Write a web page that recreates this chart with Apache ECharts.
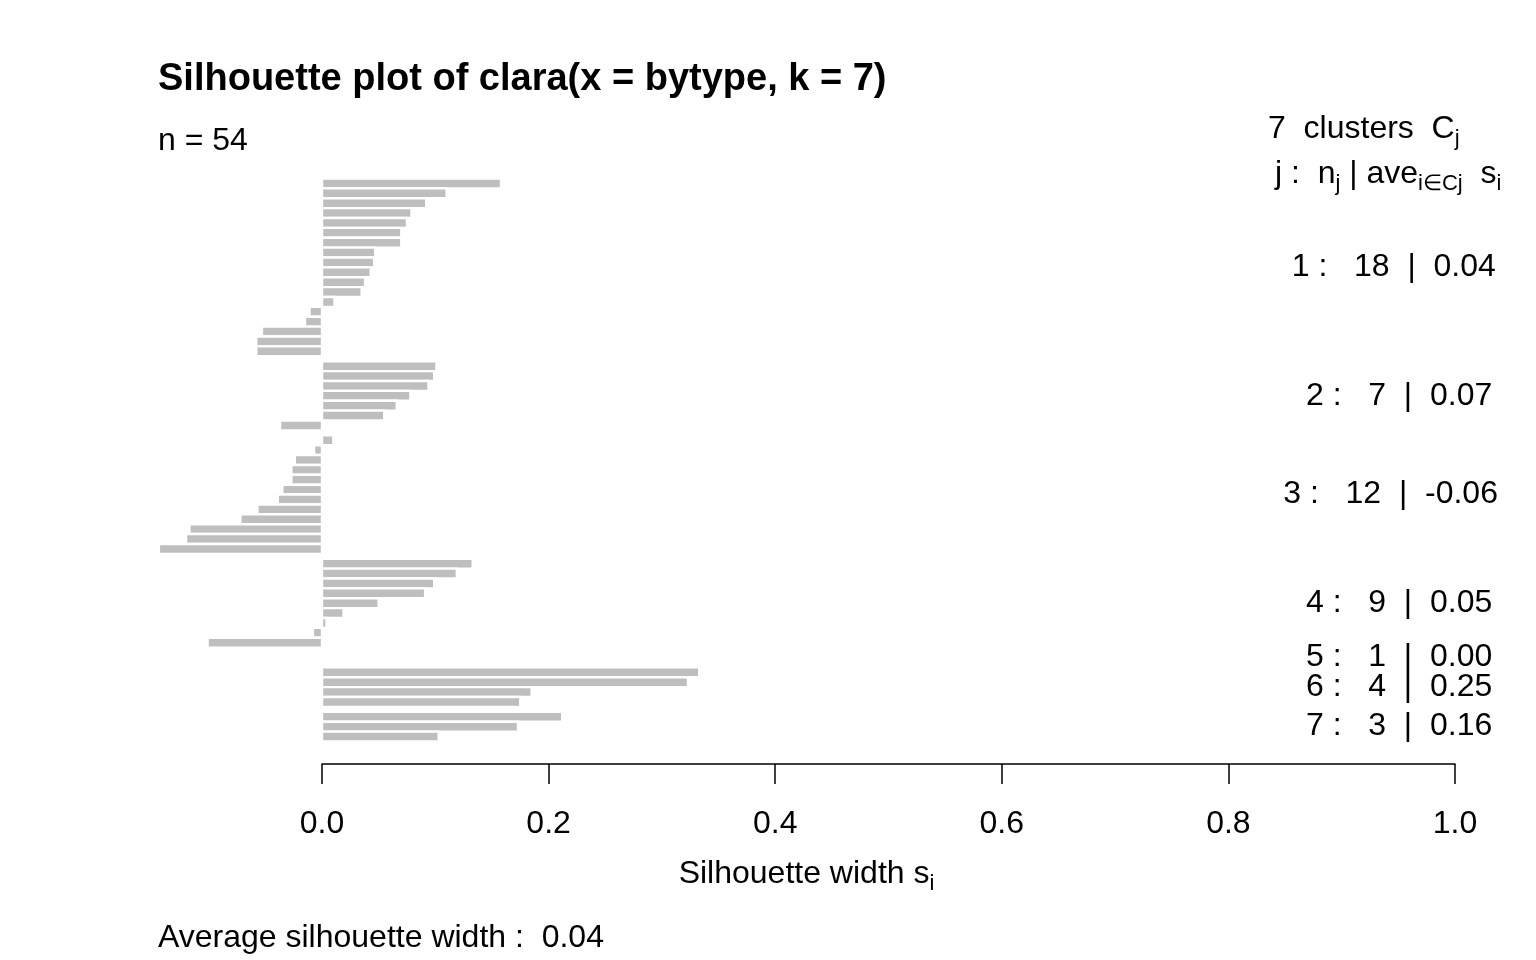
<!DOCTYPE html>
<html>
<head>
<meta charset="utf-8">
<script src="https://cdn.jsdelivr.net/npm/echarts@6/dist/echarts.min.js"></script>
<style>
  html, body { margin: 0; padding: 0; background: #ffffff; }
  #chart { width: 1536px; height: 960px; }
</style>
</head>
<body>
<div id="chart"></div>
<script>
// ---- data ----
const cluster1 = [0.158, 0.110, 0.092, 0.079, 0.075, 0.070, 0.070, 0.047, 0.046, 0.043, 0.038, 0.035, 0.011, -0.011, -0.015, -0.053, -0.058, -0.058];
const cluster2 = [0.101, 0.099, 0.094, 0.078, 0.066, 0.055, -0.037];
const cluster3 = [0.010, -0.007, -0.024, -0.027, -0.027, -0.035, -0.039, -0.057, -0.072, -0.117, -0.120, -0.144];
const cluster4 = [0.133, 0.119, 0.099, 0.091, 0.050, 0.019, 0.004, -0.008, -0.101];
const cluster5 = [0.000];
const cluster6 = [0.333, 0.323, 0.185, 0.175];
const cluster7 = [0.212, 0.173, 0.103];
const clusters = [cluster1, cluster2, cluster3, cluster4, cluster5, cluster6, cluster7];
const clusterAvgLabels = ['0.04', '0.07', '-0.06', '0.05', '0.00', '0.25', '0.16'];
const xTickLabels = ['0.0', '0.2', '0.4', '0.6', '0.8', '1.0'];
const titleText = 'Silhouette plot of clara(x = bytype, k = 7)';
const nText = 'n = 54';
const avgText = 'Average silhouette width :  0.04';

// ---- build bar slots (R barplot: width 1, 0.5 space between clusters) ----
const totalBars = clusters.reduce((a, c) => a + c.length, 0);
const totalSlots = totalBars + 0.5 * (clusters.length - 1);
const pad = 0.04 * totalSlots;
const barData = [];
const labelData = [];
let cur = totalSlots;
clusters.forEach((c, ci) => {
  if (ci > 0) cur -= 0.5;
  const top = cur;
  c.forEach(v => { barData.push([v, cur - 0.5]); cur -= 1; });
  labelData.push([ci, (top + cur) / 2]);
});

const FONT = '"Liberation Sans", Arial, Helvetica, sans-serif';
const FS = 32;
const measureCtx = document.createElement('canvas').getContext('2d');
function textWidth(s, size, weight) {
  measureCtx.font = (weight || 'normal') + ' ' + size + 'px ' + FONT;
  return measureCtx.measureText(s).width;
}

const chart = echarts.init(document.getElementById('chart'), null, { renderer: 'canvas' });

const subStyle = { fontSize: 22, fontFamily: FONT, color: '#000', lineHeight: 22, verticalAlign: 'bottom' };
const mainStyle = { fontSize: FS, fontFamily: FONT, color: '#000', lineHeight: 42, verticalAlign: 'middle' };

const option = {
  backgroundColor: '#ffffff',
  animation: false,
  grid: { left: 322, right: 81, top: 156, bottom: 196, containLabel: false },
  xAxis: {
    type: 'value', min: 0, max: 1, interval: 0.2,
    axisLine: { show: true, onZero: false, lineStyle: { color: '#000', width: 1.5 } },
    axisTick: { show: true, length: 20, lineStyle: { color: '#000', width: 1.5 } },
    axisLabel: {
      show: true, margin: 44, fontSize: FS, fontFamily: FONT, color: '#000',
      formatter: (v) => xTickLabels[Math.round(v / 0.2)]
    },
    splitLine: { show: false }
  },
  yAxis: {
    type: 'value', min: -pad, max: totalSlots + pad,
    show: false, splitLine: { show: false }
  },
  series: [
    {
      type: 'custom',
      clip: false,
      data: barData,
      renderItem: function (params, api) {
        const v = api.value(0), y = api.value(1);
        const p0 = api.coord([0, y]);
        const p1 = api.coord([v, y]);
        const h = api.size([0, 1])[1];
        return {
          type: 'rect',
          shape: { x: Math.min(p0[0], p1[0]), y: p0[1] - h / 2, width: Math.abs(p1[0] - p0[0]), height: h },
          style: { fill: '#BEBEBE', stroke: '#ffffff', lineWidth: 2.4 }
        };
      }
    },
    {
      type: 'custom',
      clip: false,
      data: labelData,
      renderItem: function (params, api) {
        const ci = api.value(0), y = api.value(1);
        const s = (ci + 1) + ' :   ' + clusters[ci].length + '  |  ' + clusterAvgLabels[ci];
        const w = textWidth(s, FS);
        const p = api.coord([1, y]);
        return {
          type: 'text',
          style: {
            text: s, x: p[0] - 0.8 * w, y: p[1],
            fill: '#000', fontSize: FS, fontFamily: FONT,
            align: 'left', verticalAlign: 'middle'
          }
        };
      }
    }
  ],
  graphic: [
    { type: 'text', x: 158, y: 80, style: { text: titleText, fontSize: 38, fontWeight: 'bold', fontFamily: FONT, fill: '#000', align: 'left', verticalAlign: 'middle' } },
    { type: 'text', x: 158, y: 141, style: { text: nText, fontSize: FS, fontFamily: FONT, fill: '#000', align: 'left', verticalAlign: 'middle' } },
    { type: 'text', x: 158, y: 938, style: { text: avgText, fontSize: FS, fontFamily: FONT, fill: '#000', align: 'left', verticalAlign: 'middle' } },
    {
      type: 'text', x: 1268, y: 129,
      style: {
        text: '{m|7  clusters  C}{s|j}', align: 'left', verticalAlign: 'middle',
        rich: { m: mainStyle, s: subStyle }
      }
    },
    {
      type: 'text', x: 1275, y: 174,
      style: {
        text: '{m|j :  n}{s|j}{m| | ave}{s|i\u2208Cj}{m|  s}{s|i}', align: 'left', verticalAlign: 'middle',
        rich: { m: mainStyle, s: subStyle }
      }
    },
    {
      type: 'text', x: 806.5, y: 874,
      style: {
        text: '{m|Silhouette width s}{s|i}', align: 'center', verticalAlign: 'middle',
        rich: { m: mainStyle, s: subStyle }
      }
    }
  ]
};
chart.setOption(option);
</script>
</body>
</html>
